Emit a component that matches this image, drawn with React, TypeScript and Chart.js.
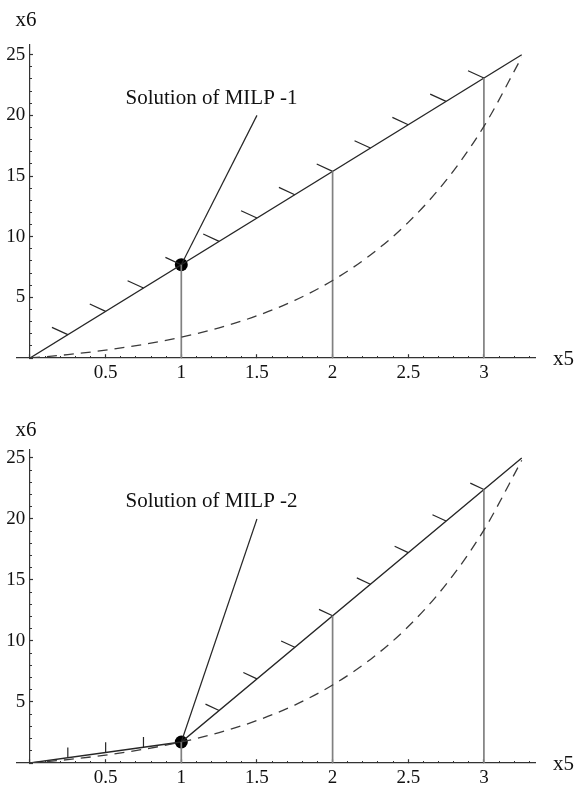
import React, { useEffect, useRef } from 'react';
import { Chart, registerables } from 'chart.js';

Chart.register(...registerables);

// ---- data ----
const CURVE_X5 = [0, 0.25, 0.5, 0.75, 1, 1.25, 1.5, 1.75, 2, 2.25, 2.5, 2.75, 3, 3.25];
const CURVE_X6 = [0, 0.28, 0.65, 1.12, 1.72, 2.49, 3.48, 4.75, 6.39, 8.49, 11.18, 14.64, 19.09, 24.8];

const TOP_LINE_X5 = [0, 3.25];
const TOP_LINE_X6 = [0, 25];
const BOTTOM_LINE_X5 = [0, 1, 3.25];
const BOTTOM_LINE_X6 = [0, 1.72, 25];

const CUT_X5 = [1, 2, 3];
const TOP_HATCH_X5 = [0.25, 0.5, 0.75, 1, 1.25, 1.5, 1.75, 2, 2.25, 2.5, 2.75, 3];
const BOTTOM_HATCH_X5 = [0.25, 0.5, 0.75, 1.25, 1.5, 1.75, 2, 2.25, 2.5, 2.75, 3];
const SOLUTION_X5 = 1;

const TOP_NOTE = 'Solution of MILP -1';
const BOTTOM_NOTE = 'Solution of MILP -2';
const NOTE_X5 = 1.2;
const NOTE_X6 = 21.4;
const LEADER_X5 = 1.5;
const LEADER_X6 = 20.0;

const X_LABEL = 'x5';
const Y_LABEL = 'x6';

// ---- style ----
const FONT = '"Liberation Serif", "Times New Roman", serif';
const AXIS = '#333';
const INK = '#262626';
const GRAY = '#808080';
const X_MIN = -0.0859;
const X_MAX = 3.3377;

function lineY(xs: number[], ys: number[], x: number) {
  for (let i = 0; i < xs.length - 1; i++) {
    if (x >= xs[i] && x <= xs[i + 1]) {
      const t = (x - xs[i]) / (xs[i + 1] - xs[i]);
      return ys[i] + t * (ys[i + 1] - ys[i]);
    }
  }
  return ys[ys.length - 1];
}
function segIndex(xs: number[], x: number) {
  for (let i = 0; i < xs.length - 1; i++) if (x >= xs[i] && x < xs[i + 1]) return i;
  return xs.length - 2;
}

const labelsPlugin = {
  id: 'axisLabels',
  afterDraw(chart: any, _args: any, opts: any) {
    const { ctx, chartArea, scales } = chart;
    ctx.save();
    ctx.fillStyle = '#111';
    ctx.textBaseline = 'middle';
    ctx.font = `21px ${FONT}`;
    ctx.textAlign = 'center';
    ctx.fillText(Y_LABEL, scales.x.getPixelForValue(0) - 4, chartArea.top - opts.yLabelGap);
    ctx.textAlign = 'left';
    ctx.fillText(X_LABEL, chartArea.right + 18, scales.y.getPixelForValue(0) + 1);
    ctx.font = `21px ${FONT}`;
    ctx.textAlign = 'center';
    ctx.fillText(opts.note, scales.x.getPixelForValue(NOTE_X5), scales.y.getPixelForValue(NOTE_X6));
    ctx.restore();
  },
};

type Spec = {
  height: number;
  lineX: number[];
  lineY: number[];
  hatchX: number[];
  hatchDir: { dx: number; dy: number }[];
  yMax: number;
  padTop: number;
  padBottom: number;
  note: string;
  yLabelGap: number;
};

function buildConfig(spec: Spec): any {
  const curve = CURVE_X5.map((x, i) => ({ x, y: CURVE_X6[i] }));
  const main = spec.lineX.map((x, i) => ({ x, y: spec.lineY[i] }));
  const cuts: any[] = [];
  CUT_X5.forEach((x) => {
    cuts.push({ x, y: 0 }, { x, y: lineY(spec.lineX, spec.lineY, x) }, { x, y: null });
  });
  const hatches: any[] = [];
  spec.hatchX.forEach((x) => {
    const y = lineY(spec.lineX, spec.lineY, x);
    const d = spec.hatchDir[segIndex(spec.lineX, x)];
    hatches.push({ x, y }, { x: x + d.dx, y: y + d.dy }, { x, y: null });
  });
  const solY = lineY(spec.lineX, spec.lineY, SOLUTION_X5);
  const leader = [
    { x: SOLUTION_X5, y: solY },
    { x: LEADER_X5, y: LEADER_X6 },
  ];

  const tickFont = { family: FONT, size: 19 };

  return {
    type: 'scatter',
    data: {
      datasets: [
        {
          data: curve, showLine: true, borderColor: '#3a3a3a', borderWidth: 1.3,
          borderDash: [10, 7], pointRadius: 0, cubicInterpolationMode: 'monotone',
        },
        { data: cuts, showLine: true, borderColor: GRAY, borderWidth: 1.7, pointRadius: 0, spanGaps: false },
        { data: hatches, showLine: true, borderColor: INK, borderWidth: 1.2, pointRadius: 0, spanGaps: false },
        { data: main, showLine: true, borderColor: INK, borderWidth: 1.35, pointRadius: 0, tension: 0 },
        { data: leader, showLine: true, borderColor: INK, borderWidth: 1.2, pointRadius: 0 },
        {
          data: [{ x: SOLUTION_X5, y: solY }], showLine: false, pointRadius: 6.5,
          pointBackgroundColor: '#000', pointBorderColor: '#000', pointBorderWidth: 0,
        },
      ],
    },
    options: {
      responsive: false,
      animation: false,
      events: [],
      layout: { padding: { left: 17, right: 50, top: spec.padTop, bottom: spec.padBottom } },
      plugins: {
        legend: { display: false },
        tooltip: { enabled: false },
        axisLabels: { note: spec.note, yLabelGap: spec.yLabelGap },
      },
      scales: {
        x: {
          type: 'linear', position: { y: 0 }, min: X_MIN, max: X_MAX,
          afterFit: (s: any) => { s.height = 0; },
          border: { display: true, color: AXIS, width: 1.2 },
          grid: { drawOnChartArea: false, drawTicks: true, tickLength: -4, tickColor: AXIS, tickWidth: 1.2 },
          ticks: {
            stepSize: 0.5, autoSkip: false, includeBounds: false, maxRotation: 0, minRotation: 0, maxTicksLimit: 1000,
            padding: 8, color: '#111', font: tickFont,
            callback: (v: number) => (v === 0 ? '' : String(v)),
          },
        },
        xm: {
          type: 'linear', axis: 'x', position: { y: 0 }, min: X_MIN, max: X_MAX,
          afterFit: (s: any) => { s.height = 0; },
          border: { display: false },
          grid: { drawOnChartArea: false, drawTicks: true, tickLength: -2, tickColor: AXIS, tickWidth: 1 },
          ticks: { stepSize: 0.1, autoSkip: false, includeBounds: false, display: false, maxTicksLimit: 1000 },
        },
        y: {
          type: 'linear', position: { x: 0 }, min: 0, max: spec.yMax,
          afterFit: (s: any) => { s.width = 0; },
          border: { display: true, color: AXIS, width: 1.2 },
          grid: { drawOnChartArea: false, drawTicks: true, tickLength: -4, tickColor: AXIS, tickWidth: 1.2 },
          ticks: {
            stepSize: 5, autoSkip: false, includeBounds: false, maxTicksLimit: 1000,
            color: '#111', font: tickFont,
            callback: (v: number) => (v === 0 ? '' : String(v) + ' '),
          },
        },
        ym: {
          type: 'linear', axis: 'y', position: { x: 0 }, min: 0, max: spec.yMax,
          afterFit: (s: any) => { s.width = 0; },
          border: { display: false },
          grid: { drawOnChartArea: false, drawTicks: true, tickLength: -2, tickColor: AXIS, tickWidth: 1 },
          ticks: { stepSize: 1, autoSkip: false, includeBounds: false, display: false, maxTicksLimit: 1000 },
        },
      },
    },
    plugins: [labelsPlugin],
  };
}

const TOP_SPEC: Spec = {
  height: 395,
  lineX: TOP_LINE_X5,
  lineY: TOP_LINE_X6,
  hatchX: TOP_HATCH_X5,
  hatchDir: [{ dx: -0.105, dy: 0.6 }],
  yMax: 25.8,
  padTop: 45,
  padBottom: 37,
  note: TOP_NOTE,
  yLabelGap: 25,
};

const BOTTOM_SPEC: Spec = {
  height: 396,
  lineX: BOTTOM_LINE_X5,
  lineY: BOTTOM_LINE_X6,
  hatchX: BOTTOM_HATCH_X5,
  hatchDir: [{ dx: 0, dy: 0.85 }, { dx: -0.09, dy: 0.52 }],
  yMax: 25.65,
  padTop: 55,
  padBottom: 28,
  note: BOTTOM_NOTE,
  yLabelGap: 20,
};

function ChartCanvas({ spec, top }: { spec: Spec; top: number }) {
  const ref = useRef<HTMLCanvasElement | null>(null);
  useEffect(() => {
    if (!ref.current) return;
    const chart = new Chart(ref.current, buildConfig(spec));
    return () => chart.destroy();
  }, [spec]);
  return (
    <canvas
      ref={ref}
      width={585}
      height={spec.height}
      style={{ position: 'absolute', left: 0, top, width: 585, height: spec.height, display: 'block' }}
    />
  );
}

export default function App() {
  return (
    <div style={{ position: 'fixed', left: 0, top: 0, width: 585, height: 791, background: '#fff', overflow: 'hidden' }}>
      <ChartCanvas spec={TOP_SPEC} top={0} />
      <ChartCanvas spec={BOTTOM_SPEC} top={395} />
    </div>
  );
}
